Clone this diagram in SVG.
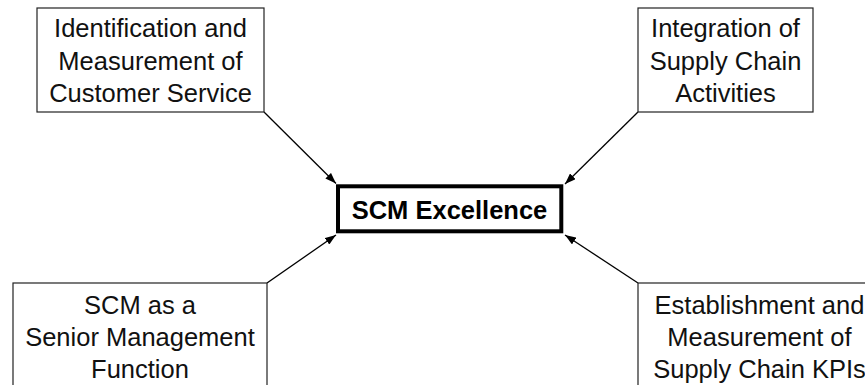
<svg xmlns="http://www.w3.org/2000/svg" width="865" height="385" viewBox="0 0 865 385">
<style>
.box{fill:#fff;stroke:#222;stroke-width:1.2}
.main{fill:#fff;stroke:#000;stroke-width:4}
.t{font-family:"Liberation Sans",Arial,sans-serif;font-size:25.5px;fill:#111;text-anchor:middle}
.b{font-family:"Liberation Sans",Arial,sans-serif;font-size:25.5px;font-weight:bold;fill:#000;text-anchor:middle}
.c{stroke:#000;stroke-width:1.3;fill:none;marker-end:url(#ah)}
</style>
<defs>
<marker id="ah" markerUnits="userSpaceOnUse" markerWidth="11" markerHeight="8" refX="11" refY="4" orient="auto">
<path d="M0,0 L11,4 L0,8 z" fill="#000"/>
</marker>
</defs>
<g id="connectors">
<line class="c" x1="264" y1="112" x2="336" y2="183.5"/>
<line class="c" x1="638" y1="112" x2="565" y2="184"/>
<line class="c" x1="267" y1="283" x2="336" y2="235"/>
<line class="c" x1="638" y1="283" x2="565" y2="235"/>
</g>
<g id="n1">
<rect class="box" x="37" y="8" width="227" height="104"/>
<text class="t" x="150.5" y="37">Identification and</text>
<text class="t" x="150.5" y="70">Measurement of</text>
<text class="t" x="150.5" y="102">Customer Service</text>
</g>
<g id="n2">
<rect class="box" x="638" y="8" width="175" height="104"/>
<text class="t" x="725.5" y="37">Integration of</text>
<text class="t" x="725.5" y="70">Supply Chain</text>
<text class="t" x="725.5" y="102">Activities</text>
</g>
<g id="n3">
<rect class="box" x="13" y="283" width="254" height="120"/>
<text class="t" x="140" y="314">SCM as a</text>
<text class="t" x="140" y="346">Senior Management</text>
<text class="t" x="140" y="378">Function</text>
</g>
<g id="n4">
<rect class="box" x="638" y="283" width="243" height="120"/>
<text class="t" x="759.5" y="314">Establishment and</text>
<text class="t" x="759.5" y="346">Measurement of</text>
<text class="t" x="759.5" y="378">Supply Chain KPIs</text>
</g>
<g id="center">
<rect class="main" x="338" y="186.3" width="223.3" height="45"/>
<text class="b" x="449.5" y="219">SCM Excellence</text>
</g>
</svg>
